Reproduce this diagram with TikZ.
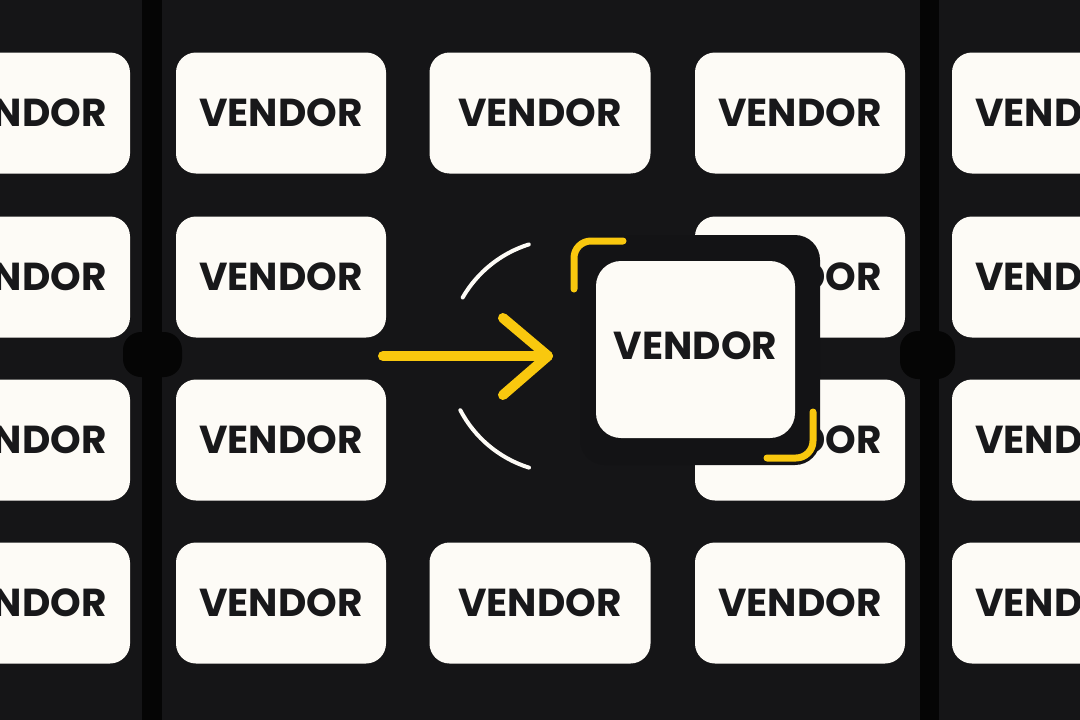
\documentclass[tikz,border=0pt]{standalone}
\usepackage{fontspec}
\newfontfamily\vendorfont{Poppins}
\usepackage{tikz}
\definecolor{bgdark}{HTML}{151517}
\definecolor{bardark}{HTML}{050505}
\definecolor{framedark}{HTML}{131315}
\definecolor{cardwhite}{HTML}{FDFBF6}
\definecolor{inkdark}{HTML}{18181A}
\definecolor{signyellow}{HTML}{F9C80E}
\tikzset{vendor/.style={draw=none, fill=cardwhite, rounded corners=20pt,
                        minimum width=210pt, minimum height=121pt, inner sep=0pt,
                        text=inkdark, font=\vendorfont\bfseries\fontsize{39}{39}\selectfont},
         widevendor/.style={vendor, minimum width=221pt},
         hubbox/.style={vendor, minimum width=199pt, minimum height=177pt, rounded corners=25pt},
         pointer/.style={draw=signyellow, line width=10pt, line cap=round, line join=round},
         bracket/.style={draw=signyellow, line width=7pt, line cap=round, rounded corners=17pt},
         ringline/.style={draw=cardwhite, line width=4pt, line cap=round}}

\begin{document}
\begin{tikzpicture}[x=1pt, y=-1pt]
            \useasboundingbox (0,0) rectangle (1080,720);
            \fill[bgdark] (0,0) rectangle (1080,720);

            \fill[bardark] (142,0) rectangle (162,720);
            \fill[bardark] (920,0) rectangle (939,720);

                    \node[vendor] (v11) at (25, 113) {VENDOR};
                    \node[vendor] (v12) at (281, 113) {VENDOR};
                    \node[widevendor] (v13) at (540, 113) {VENDOR};
                    \node[vendor] (v14) at (800, 113) {VENDOR};
                    \node[vendor] (v15) at (1057, 113) {VENDOR};

                    \node[vendor] (v21) at (25, 277) {VENDOR};
                    \node[vendor] (v22) at (281, 277) {VENDOR};
                    \node[vendor] (v24) at (800, 277) {VENDOR};
                    \node[vendor] (v25) at (1057, 277) {VENDOR};

                    \node[vendor] (v31) at (25, 440) {VENDOR};
                    \node[vendor] (v32) at (281, 440) {VENDOR};
                    \node[vendor] (v34) at (800, 440) {VENDOR};
                    \node[vendor] (v35) at (1057, 440) {VENDOR};

                    \node[vendor] (v41) at (25, 603) {VENDOR};
                    \node[vendor] (v42) at (281, 603) {VENDOR};
                    \node[widevendor] (v43) at (540, 603) {VENDOR};
                    \node[vendor] (v44) at (800, 603) {VENDOR};
                    \node[vendor] (v45) at (1057, 603) {VENDOR};

            \fill[bardark, rounded corners=18pt] (123,332) rectangle (182,377);
            \fill[bardark, rounded corners=18pt] (900,331) rectangle (955,379);

            \fill[framedark, rounded corners=25pt] (580,235) rectangle (820,465);
                    \node[hubbox] (hub) at (695.5, 349.5) {\raisebox{8pt}{VENDOR}};

                    \draw[bracket] (574,289) -- (574,241) -- (623,241);
                    \draw[bracket] (813,412) -- (813,458) -- (767,458);

                    \coordinate (ring) at (564,356);
                    \draw[ringline] (ring) ++(-107.5:117) arc[start angle=-107.5, end angle=-150, radius=117];
                    \draw[ringline] (ring) ++(152.4:117) arc[start angle=152.4, end angle=107.4, radius=117];

                    \coordinate (arrstart) at (383,356);
                    \coordinate (arrtip) at (548,356);
                    \draw[pointer] (arrstart) -- (arrtip);
                    \draw[pointer] ([shift={(-45,-38)}]arrtip) -- (arrtip) -- ++(-45,39);
\end{tikzpicture}
\end{document}
